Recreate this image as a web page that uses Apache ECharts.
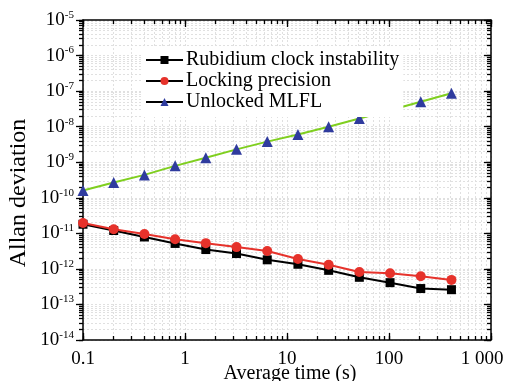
<!DOCTYPE html>
<html><head><meta charset="utf-8">
<script src="https://cdn.jsdelivr.net/npm/echarts@6/dist/echarts.min.js"></script>
<style>html,body{margin:0;padding:0;background:#fff}#c{width:509px;height:381px}</style>
</head><body><div id="c"></div>
<script>
// ---- data ----
const averageTimes = [0.1, 0.2, 0.4, 0.8, 1.6, 3.2, 6.4, 12.8, 25.6, 51.2, 102.4, 204.8, 409.6];
const rubidiumClock = [1.8e-11, 1.2e-11, 7.9e-12, 5.2e-12, 3.5e-12, 2.7e-12, 1.8e-12, 1.35e-12, 9.1e-13, 5.8e-13, 4.1e-13, 2.8e-13, 2.6e-13];
const lockingPrecision = [1.95e-11, 1.3e-11, 9.6e-12, 6.8e-12, 5.3e-12, 4.1e-12, 3.2e-12, 1.9e-12, 1.3e-12, 8.2e-13, 7.5e-13, 6.2e-13, 4.9e-13];
const unlockedMLFL = [1.6e-10, 2.7e-10, 4.4e-10, 7.9e-10, 1.33e-9, 2.3e-9, 3.8e-9, 6.0e-9, 1.0e-8, 1.7e-8, 2.9e-8, 5.0e-8, 8.7e-8];
const seriesNames = ['Rubidium clock instability', 'Locking precision', 'Unlocked MLFL'];
// ---- ticks ----
const xMajorTicks = [0.1, 1, 10, 100, 1000];
const xTickLabels = ['0.1', '1', '10', '100', '1 000'];
const yMajorTicks = [1e-14, 1e-13, 1e-12, 1e-11, 1e-10, 1e-9, 1e-8, 1e-7, 1e-6, 1e-5];
const yTickExponents = ['-14', '-13', '-12', '-11', '-10', '-9', '-8', '-7', '-6', '-5'];
const minorMultipliers = [2, 3, 4, 5, 6, 7, 8, 9];

function withMinors(majors) {
  const out = [];
  majors.forEach((m, i) => {
    out.push(m);
    if (i < majors.length - 1) minorMultipliers.forEach(k => out.push(m * k));
  });
  return out;
}
const xAllTicks = withMinors(xMajorTicks);
const yAllTicks = withMinors(yMajorTicks);
function idxOf(arr, v) {
  return arr.findIndex(m => Math.abs(Math.log10(m) - Math.log10(v)) < 1e-6);
}

const FONT = '"Liberation Serif", "Times New Roman", serif';
const axisLine = { show: true, lineStyle: { color: '#000', width: 1.5 } };
const tickStyle = { color: '#000', width: 1.3 };
const grid = { color: '#e0e0e0', width: 1, type: [2, 2] };

function xAx(pos, major, extra) {
  return Object.assign({
    type: 'log', logBase: 10, min: 0.1, max: 1000, position: pos, gridIndex: 0,
    axisLine: major ? axisLine : { show: false },
    axisTick: { show: true, inside: true, length: major ? 7 : 4,
      customValues: major ? xMajorTicks : xAllTicks, lineStyle: tickStyle },
    axisLabel: { show: false },
    splitLine: { show: false }
  }, extra || {});
}
function yAx(pos, major, extra) {
  return Object.assign({
    type: 'log', logBase: 10, min: 1e-14, max: 1e-5, position: pos, gridIndex: 0,
    axisLine: major ? axisLine : { show: false },
    axisTick: { show: true, inside: pos === 'right', length: major ? 7 : 4,
      customValues: major ? yMajorTicks : yAllTicks, lineStyle: tickStyle },
    axisLabel: { show: false },
    splitLine: { show: false }
  }, extra || {});
}

const chart = echarts.init(document.getElementById('c'), null, { renderer: 'canvas' });
const mk = (arr) => averageTimes.map((x, i) => [x, arr[i]]);

chart.setOption({
  backgroundColor: '#fff',
  animation: false,
  grid: { left: 83, right: 18, top: 20, bottom: 41, outerBoundsMode: 'none', containLabel: false },
  legend: {
    orient: 'vertical', left: 141, top: 46,
    backgroundColor: '#fff', padding: [4, 4, 5, 4],
    itemWidth: 37, itemHeight: 10, itemGap: 1,
    textStyle: { fontFamily: FONT, fontSize: 20, color: '#000', padding: [0, 0, 0, -2] },
    data: [
      { name: seriesNames[0], lineStyle: { color: '#000' } },
      { name: seriesNames[1], lineStyle: { color: '#000' } },
      { name: seriesNames[2], lineStyle: { color: '#000' } }
    ]
  },
  xAxis: [
    xAx('bottom', true, {
      axisLabel: { show: true, customValues: xMajorTicks, margin: 10,
        fontFamily: FONT, fontSize: 19, color: '#000',
        formatter: v => {
          const i = idxOf(xMajorTicks, v);
          return i === xMajorTicks.length - 1 ? '{r|' + xTickLabels[i] + '}' : xTickLabels[i];
        },
        rich: { r: { fontFamily: FONT, fontSize: 19, color: '#000', padding: [0, 18, 0, 0] } } },
      name: 'Average time (s)', nameLocation: 'middle', nameGap: 24, nameMoveOverlap: false,
      nameTextStyle: { fontFamily: FONT, fontSize: 20, color: '#000', verticalAlign: 'top', padding: [0, 0, 0, 6] }
    }),
    xAx('bottom', false, { splitLine: { show: true, lineStyle: grid } }),
    xAx('top', true),
    xAx('top', false)
  ],
  yAxis: [
    yAx('left', true, {
      axisLabel: { show: true, customValues: yMajorTicks, margin: 9,
        fontFamily: FONT, fontSize: 19, color: '#000',
        formatter: v => '{b|10}{s|' + yTickExponents[idxOf(yMajorTicks, v)] + '}',
        rich: {
          b: { fontFamily: FONT, fontSize: 19, color: '#000' },
          s: { fontFamily: FONT, fontSize: 11, color: '#000', verticalAlign: 'top', padding: [0, 0, 10, 0] }
        } },
      name: 'Allan deviation', nameLocation: 'middle', nameGap: 52, nameMoveOverlap: false,
      nameTextStyle: { fontFamily: FONT, fontSize: 24, color: '#000', padding: [0, 26, 0, 0] }
    }),
    yAx('left', false, { splitLine: { show: true, lineStyle: grid } }),
    yAx('right', true),
    yAx('right', false)
  ],
  series: [
    { name: seriesNames[0], type: 'line', xAxisIndex: 0, yAxisIndex: 0, data: mk(rubidiumClock),
      symbol: 'rect', symbolSize: 9, color: '#000',
      lineStyle: { color: '#000', width: 2 }, itemStyle: { color: '#000' }, z: 3 },
    { name: seriesNames[1], type: 'line', xAxisIndex: 0, yAxisIndex: 0, data: mk(lockingPrecision),
      symbol: 'circle', symbolSize: 10, color: '#e6322b',
      lineStyle: { color: '#e6322b', width: 2 }, itemStyle: { color: '#e6322b' }, z: 3 },
    { name: seriesNames[2], type: 'line', xAxisIndex: 0, yAxisIndex: 0, data: mk(unlockedMLFL),
      symbol: 'triangle', symbolSize: 11, color: '#2f3b9e',
      lineStyle: { color: '#7fcf1f', width: 2 }, itemStyle: { color: '#2f3b9e' }, z: 3 }
  ]
});
</script></body></html>
